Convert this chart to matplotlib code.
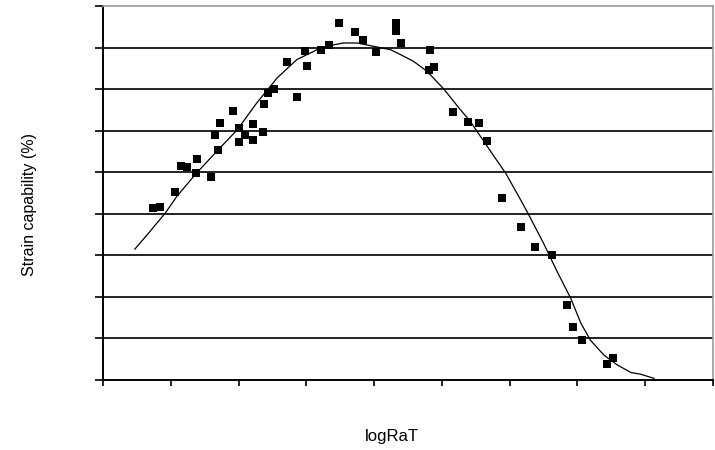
import numpy as np
import matplotlib
matplotlib.use('Agg')
import matplotlib.pyplot as plt

# measured points (x in axis tick units, y in gridline units)
log_rat = [0.74, 0.84, 1.06, 1.15, 1.24, 1.39, 1.37, 1.59, 1.70, 1.65,
           1.73, 1.92, 2.01, 2.01, 2.10, 2.21, 2.21, 2.36, 2.37, 2.43,
           2.52, 2.71, 2.86, 2.98, 3.01, 3.22, 3.33, 3.48, 3.72, 3.84,
           4.03, 4.33, 4.32, 4.39, 4.82, 4.89, 4.81, 5.17, 5.38, 5.55,
           5.66, 5.89, 6.17, 6.38, 6.63, 6.85, 6.94, 7.07, 7.43, 7.52]
strain = [4.14, 4.17, 4.53, 5.14, 5.12, 5.32, 4.99, 4.88, 5.53, 5.90,
          6.19, 6.48, 6.07, 5.72, 5.90, 6.17, 5.77, 5.96, 6.64, 6.91,
          7.00, 7.65, 6.81, 7.91, 7.55, 7.93, 8.05, 8.58, 8.38, 8.19,
          7.90, 8.58, 8.39, 8.12, 7.93, 7.53, 7.45, 6.45, 6.21, 6.19,
          5.74, 4.38, 3.68, 3.19, 3.01, 1.81, 1.27, 0.96, 0.39, 0.52]

# trend line
trend_x = [0.47, 0.67, 0.92, 1.09, 1.38, 1.70, 1.98, 2.27, 2.57, 2.86,
           3.16, 3.35, 3.55, 3.75, 3.99, 4.24, 4.39, 4.58, 4.78, 5.03,
           5.23, 5.42, 5.57, 5.77, 5.94, 6.16, 6.28, 6.50, 6.70, 6.90,
           7.05, 7.19, 7.39, 7.59, 7.79, 7.93, 8.13]
trend_y = [3.15, 3.53, 4.02, 4.42, 4.98, 5.54, 6.02, 6.67, 7.27, 7.71,
           7.95, 8.05, 8.11, 8.11, 8.03, 7.95, 7.83, 7.67, 7.43, 7.00,
           6.59, 6.22, 5.86, 5.38, 4.98, 4.34, 3.98, 3.29, 2.61, 1.97,
           1.37, 0.96, 0.60, 0.36, 0.18, 0.14, 0.04]

plt.rcParams['font.family'] = ['Liberation Sans', 'DejaVu Sans']

fig = plt.figure(figsize=(7.15, 4.5), dpi=100)
ax = fig.add_axes([103/715, 70/450, 610/715, 374/450])

for gy in range(1, 9):
    ax.axhline(gy, color='#222222', linewidth=1.4, zorder=1)

ax.plot(trend_x, trend_y, color='black', linewidth=0.9, zorder=2)
ax.scatter(log_rat, strain, marker='s', s=26, color='black', zorder=3, linewidths=0)

ax.set_xlim(0, 9)
ax.set_ylim(0, 9)
ax.set_xticks(np.arange(0, 10))
ax.set_yticks(np.arange(0, 10))
ax.set_xticklabels([])
ax.set_yticklabels([])
ax.tick_params(axis='x', direction='out', length=4, width=1.2)
ax.tick_params(axis='y', direction='out', length=6, width=1.2)

ax.spines['left'].set_linewidth(1.4)
ax.spines['bottom'].set_linewidth(1.4)
ax.spines['top'].set_color('#999999')
ax.spines['right'].set_color('#999999')
ax.spines['top'].set_linewidth(1.2)
ax.spines['right'].set_linewidth(1.2)

fig.text(30/715, 1 - 205/450, 'Strain capability (%)', rotation=90,
         ha='center', va='center', fontsize=11.5)
fig.text(392/715, 1 - 437/450, 'logRaT', ha='center', va='center', fontsize=12)

plt.savefig('out.png', dpi=100)
